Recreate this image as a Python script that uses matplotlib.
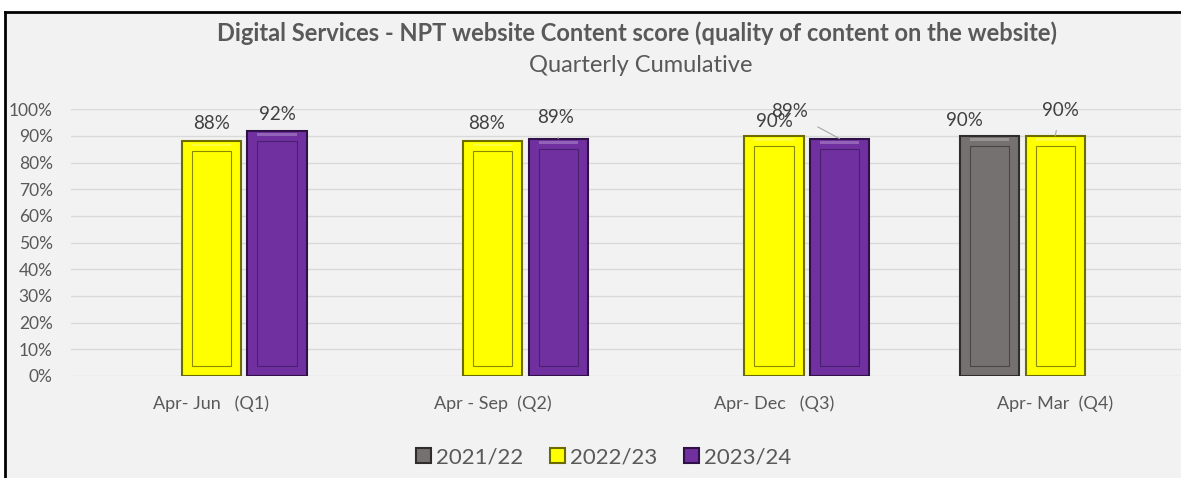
import matplotlib
matplotlib.use('Agg')
import matplotlib.pyplot as plt
from matplotlib.patches import Rectangle
from matplotlib.lines import Line2D
import numpy as np

plt.rcParams['font.family'] = ['Lato', 'DejaVu Sans']

# data
categories = ['Apr- Jun   (Q1)', 'Apr - Sep  (Q2)', 'Apr- Dec   (Q3)', 'Apr- Mar  (Q4)']
series_names = ['2021/22', '2022/23', '2023/24']
s2122 = [np.nan, np.nan, np.nan, 0.90]
s2223 = [0.88, 0.88, 0.90, 0.90]
s2324 = [0.92, 0.89, 0.89, np.nan]

fills = ['#767171', '#ffff00', '#7030a0']
edges = ['#2e2c2c', '#6b6b00', '#2f1147']
inner = ['#4a4646', '#8a8a00', '#4a1f6e']

# label offsets in px (dx, dy) per series / category, and whether a leader line shows
label_off = {
    (1, 0): (0, 18), (2, 0): (0, 16),
    (1, 1): (-6, 18), (2, 1): (-3, 21),
    (1, 2): (0, 14), (2, 2): (-50, 27),
    (0, 3): (-25, 15), (1, 3): (5, 25),
}
leaders = {(2, 1), (2, 2), (1, 3)}

W, H = 1181, 478
fig = plt.figure(figsize=(W / 100, H / 100), dpi=100, facecolor='white')

# chart panel, framed on the left and top only (cropped on the other sides)
fig.patches.append(Rectangle((5 / W, 0), 1, 1 - 12 / H, transform=fig.transFigure,
                             facecolor='#f2f2f2', edgecolor='none', zorder=-5))
fig.lines.append(Line2D([5 / W, 5 / W], [0, 1 - 12 / H], transform=fig.transFigure,
                        color='black', linewidth=2))
fig.lines.append(Line2D([5 / W, 1], [1 - 12 / H, 1 - 12 / H], transform=fig.transFigure,
                        color='black', linewidth=2))

ax = fig.add_axes([70.85 / W, 102 / H, 1125 / W, 266.7 / H])
ax.set_facecolor('none')

x = np.arange(len(categories))
bw = 0.21
step = 0.233
px_x = 1125 / 4  # px per category
px_y = 266.7     # px per 1.0

for i, vals in enumerate([s2122, s2223, s2324]):
    pos = x + (i - 1) * step
    v = np.array(vals, dtype=float)
    ax.bar(pos, v, bw, color=fills[i], edgecolor=edges[i], linewidth=1.5, zorder=3)
    # bevel inner panel
    ix = 10 / px_x
    iy = 10 / px_y
    ax.bar(pos, v - 2 * iy, bw - 2 * ix, bottom=iy, facecolor='none',
           edgecolor=inner[i], linewidth=0.8, zorder=4)
    # highlight strip at the top
    ax.bar(pos, np.full_like(v, 2.5 / px_y), bw - 2 * ix, bottom=v - 5 / px_y,
           color='white', alpha=0.25, linewidth=0, zorder=4)
    for j, val in enumerate(vals):
        if np.isnan(val):
            continue
        dx, dy = label_off.get((i, j), (0, 17))
        ap = None
        if (i, j) in leaders:
            ap = dict(arrowstyle='-', color='#a6a6a6', lw=0.8, shrinkA=6, shrinkB=0)
        ax.annotate(f'{val:.0%}', xy=(pos[j], val), xytext=(dx * 0.72, dy * 0.72),
                    textcoords='offset points', ha='center', va='center',
                    fontsize=13.5, color='#404040', arrowprops=ap, zorder=5)

ax.set_xlim(-0.5, 3.5)
ax.set_ylim(0, 1)
ax.set_yticks(np.arange(0, 1.01, 0.1))
ax.set_yticklabels([f'{int(round(t * 100))}%' for t in np.arange(0, 1.01, 0.1)])
ax.set_xticks(x)
ax.set_xticklabels(categories)
ax.tick_params(axis='y', length=0, pad=13, labelsize=12.5, labelcolor='#595959')
ax.tick_params(axis='x', length=0, pad=14, labelsize=13, labelcolor='#595959')
ax.grid(axis='y', color='#d9d9d9', linewidth=1, zorder=0)
ax.set_axisbelow(True)
for s in ax.spines.values():
    s.set_visible(False)

fig.text(637 / W, 1 - 33 / H, 'Digital Services - NPT website Content score (quality of content on the website)',
         ha='center', va='center', fontsize=17, fontweight='bold', color='#595959')
fig.text(641 / W, 1 - 66 / H, 'Quarterly Cumulative', ha='center', va='center',
         fontsize=17, color='#595959')

handles = [Rectangle((0, 0), 1, 1, facecolor=fills[i], edgecolor=edges[i], linewidth=1.5)
           for i in range(3)]
fig.legend(handles, series_names, loc='center', bbox_to_anchor=(604 / W, 1 - 457 / H),
           ncol=3, frameon=False, fontsize=16, labelcolor='#595959',
           handlelength=0.65, handleheight=0.65, handletextpad=0.25, columnspacing=1.2)

fig.savefig('out.png', dpi=100, facecolor=fig.get_facecolor())
